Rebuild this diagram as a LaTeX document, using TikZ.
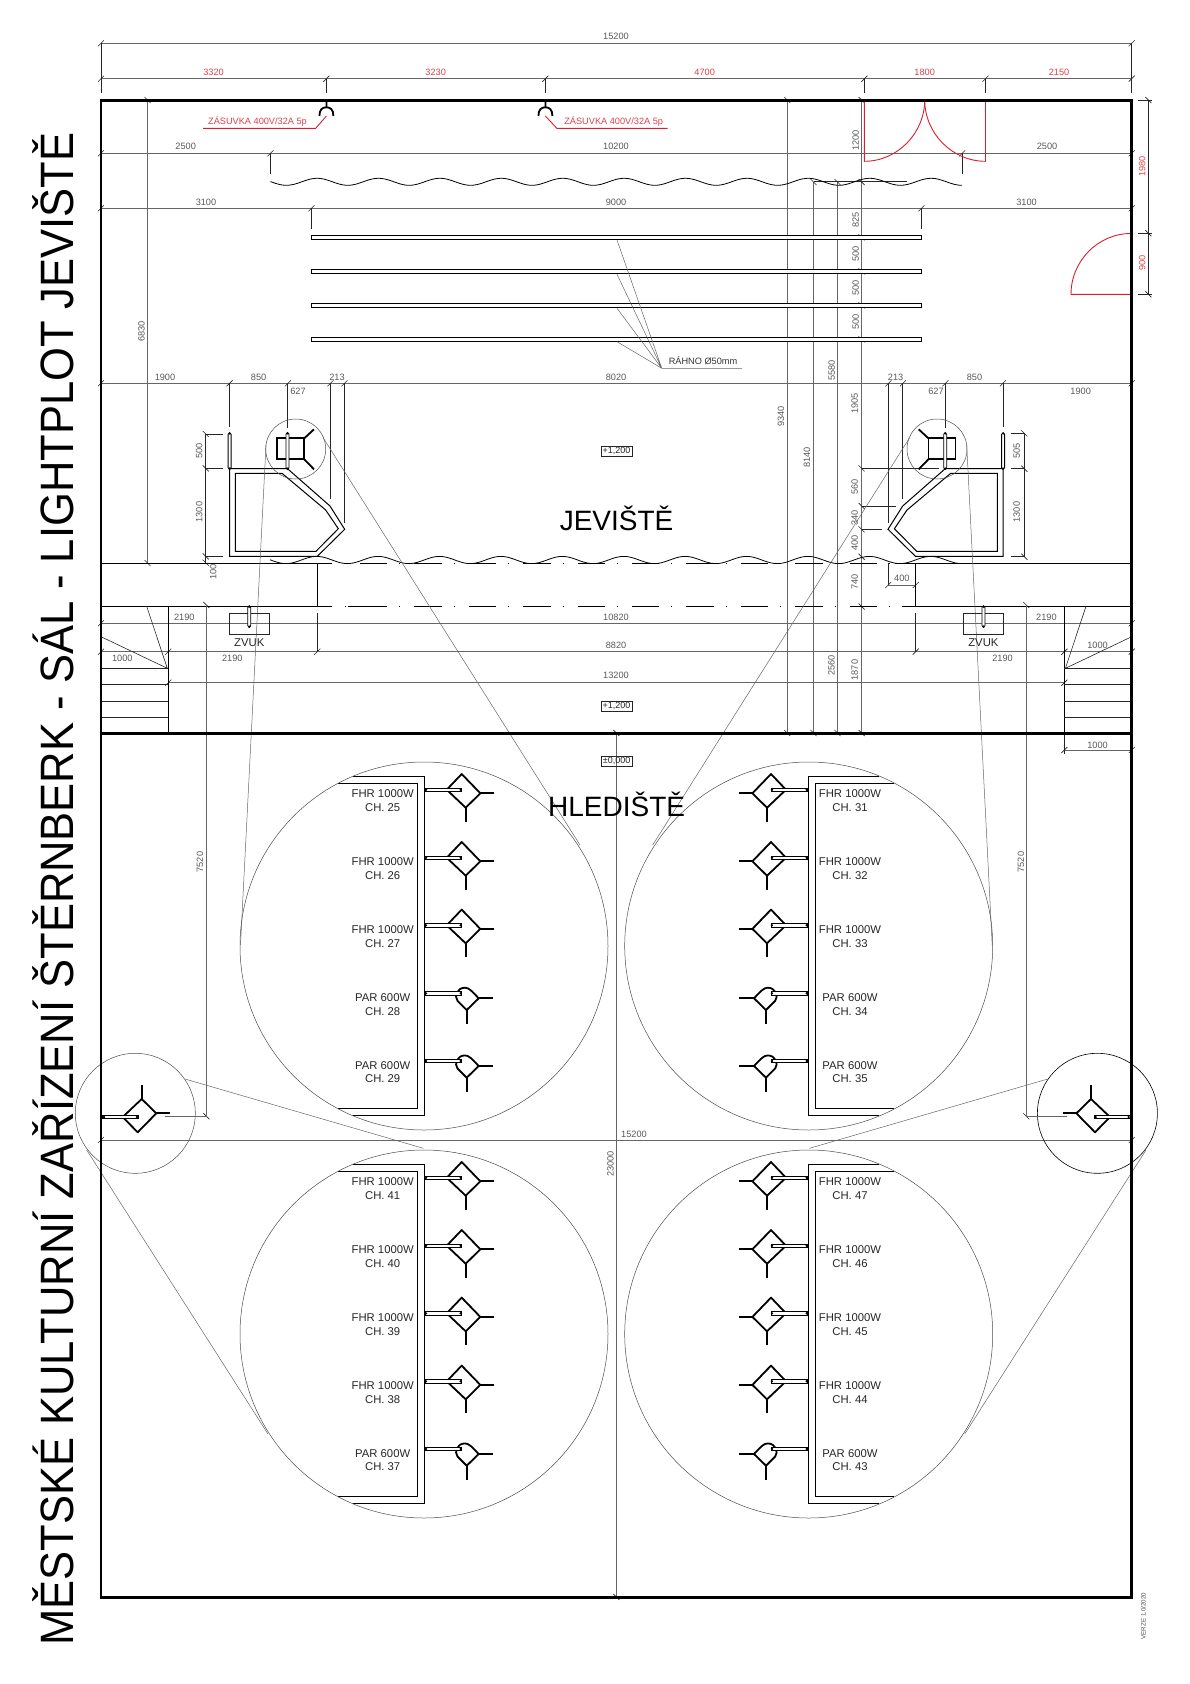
\documentclass[tikz,border=0pt]{standalone}
\usepackage{graphicx}
\usepackage{fontspec}
\setmainfont{Liberation Sans}

\definecolor{doorred}{RGB}{214,32,44}
\tikzset{
	dimline/.style={black!60,line width=0.5pt},
	extline/.style={black!85,line width=0.6pt},
	tickline/.style={black!85,line width=0.6pt},
	wallline/.style={black,line width=1pt},
	lampline/.style={black,line width=1.8pt},
	reddoor/.style={doorred,line width=0.9pt},
	bigcircle/.style={black!70,line width=0.5pt},
	dimtext/.style={black!65,inner sep=0pt,font=\fontsize{9.2}{9.2}\selectfont},
	dimvert/.style={dimtext,rotate=90},
	redtext/.style={doorred!85,inner sep=0pt,font=\fontsize{9.2}{9.2}\selectfont},
	lamptext/.style={black!85,inner sep=0pt,align=center,font=\fontsize{11.3}{13.7}\selectfont},
	leveltext/.style={draw=black!70,line width=0.5pt,black!85,inner sep=1.5pt,font=\fontsize{9}{9}\selectfont},
	roomtext/.style={black,inner sep=0pt,font=\fontsize{28}{28}\selectfont},
}

\newcommand{\vtube}[3]{
	\draw[black,fill=white,line width=0.8pt,rounded corners=1pt] (#1-1.5,#2) rectangle (#1+1.5,#3);
	\fill[black] (#1,#2) circle (1.4) (#1,#3) circle (1.4);
}
\newcommand{\htube}[2]{
	\draw[black,fill=white,line width=0.8pt] (#1,#2-1.6) rectangle (#1+36.7,#2+1.6);
}
\newcommand{\fhrrow}[2]{
	\begin{scope}[shift={(\rowx,#1)},xscale=\rowsign]
		\draw[lampline,line join=round] (21.7,0) -- (36.7,-15.7) -- (55.3,3.6) -- (40.7,18) -- cycle;
		\draw[lampline] (55.3,3.6) -- (69,3.6) (40.7,18) -- (40.7,32);
		\htube{0}{0}
		\fill[black] (1,0) circle (1.3) (35.7,0) circle (1.3);
	\end{scope}
	\node[lamptext] (ch#2) at (\rowtext,#1+11) {FHR 1000W\\CH. #2};
}
\newcommand{\parrow}[2]{
	\begin{scope}[shift={(\rowx,#1)},xscale=\rowsign]
		\draw[lampline,line join=round] (53.7,5) -- (41.7,16.7) -- (32.5,7.5) .. controls (29,3) and (32,-5.6) .. (40,-5.6) .. controls (44,-5.6) and (47,-2) .. (53.7,5);
		\draw[lampline] (53.7,5) -- (68.3,5) (41.7,16.7) -- (41.7,31);
		\htube{0}{0}
		\fill[black] (1,0) circle (1.3) (35.7,0) circle (1.3);
	\end{scope}
	\node[lamptext] (ch#2) at (\rowtext,#1+11) {PAR 600W\\CH. #2};
}
\newcommand{\panelbox}[1]{
	\begin{scope}[shift={(\rowx,#1)},xscale=\rowsign]
		\draw[wallline] (-71.7,-13.4) -- (-0.7,-13.4) -- (-0.7,325.6) -- (-71.7,325.6);
		\draw[wallline] (-86.7,-6.4) -- (-7.7,-6.4) -- (-7.7,318.6) -- (-86.7,318.6);
		\draw[bigcircle] (-1,156.3) circle (184);
	\end{scope}
}
\newcommand{\stagewing}{
	\draw[wallline] (229.6,468.7) -- (287.5,468.7) -- (330,506) -- (344.7,529.3) -- (317.3,556.3) -- (229.6,556.3) -- cycle;
	\draw[wallline] (235.3,473.3) -- (282,473.3) -- (325.7,510) -- (338.3,528.7) -- (316,551.3) -- (235.3,551.3) -- cycle;
	\draw[extline] (229.6,383.3) -- (229.6,426.7) (287.5,383.3) -- (287.5,428) (330.3,383.3) -- (330.3,499) (344.7,383.3) -- (344.7,522.7);
	\draw[bigcircle] (295.7,449) circle (30);
	\draw[lampline] (277.3,438.3) rectangle (304.3,459.3);
	\draw[lampline] (304.3,438.3) -- (314,429.3) (304.3,459.3) -- (314,469.3);
	\vtube{229.6}{433.3}{468.7}
	\vtube{287.5}{433.3}{468.7}
	\draw[dimline] (266,445) -- (240.5,945) (323.3,438) -- (580,845);
	\draw[wallline] (317.3,563.3) -- (317.3,606.3) (168.3,606.3) -- (168.3,733.5);
	\draw[extline] (317.3,613.3) -- (317.3,651.7);
	\draw[extline] (229.3,613.3) rectangle (269.7,634.7);
	\vtube{249.3}{606.5}{626.7}
	\foreach \stepy in {668.3,684.3,701.3,717.3}
		\draw[extline] (101,\stepy) -- (168.3,\stepy);
	\draw[extline] (146.7,606.3) -- (167.3,668.3) -- (101,636.7);
}
\newcommand{\sidelamp}{
	\draw[lampline,line join=round] (122.7,1117) -- (141.7,1099) -- (156.3,1113.3) -- (137.7,1132.3) -- cycle;
	\draw[lampline] (141.7,1099) -- (141.7,1085) (156.3,1113.3) -- (170,1113.3);
	\draw[black,fill=white,line width=0.8pt] (102.7,1115.4) rectangle (138.3,1118.6);
	\fill[black] (104,1117) circle (1.3) (137,1117) circle (1.3);
	\draw[dimline] (165.3,1116.3) -- (206.4,1116.3) -- (206.4,605);
	\draw[dimline] (185,1079) -- (423.3,1148.3) (86.7,1150) -- (268,1434);
}

\begin{document}
\begin{tikzpicture}[x=1pt,y=-1pt]
	\useasboundingbox (0,0) rectangle (1190,1684);

	\draw[dimline] (101,43.3) -- (1131.7,43.3) (101,78.7) -- (1131.7,78.7);
	\draw[dimline] (101,153.3) -- (1131.7,153.3) (101,208.3) -- (1131.7,208.3) (101,383.3) -- (1131.7,383.3);
	\draw[dimline] (101,623.3) -- (1131.7,623.3) (101,651.7) -- (1131.7,651.7) (168.3,682.7) -- (1064.4,682.7);
	\draw[dimline] (101,1140) -- (1131.7,1140) (616.4,733) -- (616.4,1597.7);
	\draw[dimline] (888.2,585) -- (915.7,585) (1064.4,750) -- (1131.7,750);
	\draw[dimline] (147.5,100) -- (147.5,563);
	\foreach \dimx/\dimtop in {787.3/100,813.5/182,837.5/182,861.6/100}
		\draw[dimline] (\dimx,\dimtop) -- (\dimx,733);
	\draw[extline] (101,43.3) -- (101,93.3) (1131.7,43.3) -- (1131.7,93.3);
	\foreach \dimx in {326.4,545.4,864.4,985.5}
		\draw[extline] (\dimx,78.7) -- (\dimx,93.3);
	\draw[extline] (270.4,153.3) -- (270.4,174) (962.2,153.3) -- (962.2,174);
	\draw[extline] (311.4,208.3) -- (311.4,229.3) (921.5,208.3) -- (921.5,229.3);
	\draw[extline] (813.5,181.7) -- (907,181.7);
	\draw[extline] (861.6,468.3) -- (939,468.3) (861.6,506) -- (895.7,506) (861.6,529.3) -- (882,529.3);
	\draw[extline] (888.2,563) -- (888.2,585) (1064.4,733.5) -- (1064.4,754);
	\draw[extline] (205.7,434) -- (205.7,562.7);
	\draw[extline] (205.7,434) -- (223.3,434) (205.7,468.3) -- (223.3,468.3) (205.7,556.3) -- (223.3,556.3);
	\draw[extline] (1024.3,433.3) -- (1024.3,556.7);
	\draw[extline] (1010.7,433.3) -- (1024.3,433.3) (1010.7,468.7) -- (1024.3,468.7) (1010.7,556.7) -- (1024.3,556.7);
	\draw[extline] (1148.4,100) -- (1148.4,294.3);
	\draw[extline] (1138,100) -- (1152,100) (1138,233.3) -- (1152,233.3) (1138,294.3) -- (1152,294.3);

	\foreach \tickx/\ticky in {101/43.3,1131.7/43.3,101/78.7,326.4/78.7,545.4/78.7,864.4/78.7,985.5/78.7,1131.7/78.7,
		101/153.3,270.4/153.3,962.2/153.3,1131.7/153.3,101/208.3,311.4/208.3,921.5/208.3,1131.7/208.3,
		101/383.3,229.6/383.3,287.9/383.3,330.4/383.3,344.5/383.3,888.4/383.3,902.9/383.3,945.5/383.3,1002.9/383.3,1131.7/383.3,
		101/623.3,1131.7/623.3,101/651.7,168.3/651.7,317.3/651.7,915.7/651.7,1064.4/651.7,1131.7/651.7,
		168.3/682.7,1064.4/682.7,888.2/585,915.7/585,1064.4/750,1131.7/750,101/1140,1131.7/1140}
		\draw[tickline] (\tickx,\ticky) ++(-3,3) -- ++(6,-6);
	\foreach \tickx/\ticky in {147.5/100,147.5/563,787.3/100,787.3/733,813.5/182,813.5/733,837.5/182,837.5/733,
		861.6/100,861.6/182,861.6/237.3,861.6/271.3,861.6/305.3,861.6/339.3,861.6/468.3,861.6/506,861.6/529.3,861.6/556.7,861.6/606.5,861.6/733,
		616.4/733,616.4/1597,205.7/434,205.7/468.3,205.7/556.3,205.7/562.7,206.4/605,206.4/1116.3,1026.3/605,1026.3/1116.3,
		1024.3/433.3,1024.3/468.7,1024.3/556.7,1148.4/100,1148.4/233.3,1148.4/294.3}
		\draw[tickline] (\tickx,\ticky) ++(-3,-3) -- ++(6,6);

	\draw[black,line width=0.8pt] plot[domain=270.4:962.2,samples=260] (\x,{181.8+3.5*cos((\x-286.4)*5.863)});
	\draw[black,line width=0.8pt] plot[domain=270:962.5,samples=260] (\x,{560-3.6*cos((\x-316.7)*5.863)});
	\foreach \bary in {237.3,271.3,305.3,339.3}
		\draw[black,fill=white,line width=0.9pt] (311.4,\bary-2) rectangle (921.5,\bary+2);
	\draw[dimline] (617,240) -- (661.8,368.3) (617,274.3) -- (661.8,368.3) (617,308.3) -- (661.8,368.3) (617,341.7) -- (661.8,368.3) -- (741.8,368.3);

	\draw[wallline,line width=0.8pt] (101,563.3) -- (332,563.3) (895,563.3) -- (1131.7,563.3);
	\draw[wallline,line width=0.8pt] (101,606.3) -- (332,606.3) (902,606.3) -- (1131.7,606.3);
	\draw[wallline,line width=0.8pt,dash pattern=on 1pt off 14pt on 27.4pt off 12pt] (345,563.3) -- (890,563.3) (345,606.3) -- (890,606.3);
	\draw[wallline,line width=0.8pt] (348,606.3) -- (360,606.3);

	\foreach \sockx in {326.4,545.4}
		\draw[lampline] (\sockx,100) -- (\sockx,107.3) (\sockx-7,116) .. controls (\sockx-7,109.5) and (\sockx-4,107.3) .. (\sockx,107.3) .. controls (\sockx+4,107.3) and (\sockx+7,109.5) .. (\sockx+7,116);
	\draw[reddoor] (203,128.3) -- (315.7,128.3) -- (326.4,116);
	\draw[reddoor] (667.6,128.3) -- (556.8,128.3) -- (545.4,116);
	\draw[reddoor] (924.7,100) .. controls (924.7,133) and (897.5,161.3) .. (864.4,161.3) -- (864.4,100);
	\draw[reddoor] (924.7,100) .. controls (924.7,133) and (951.9,161.3) .. (985.5,161.3) -- (985.5,100);
	\draw[reddoor] (1131,233.5) .. controls (1098,233.5) and (1071,261) .. (1071,294.3) -- (1131,294.3);

	\stagewing
	\begin{scope}[shift={(1232.7,0)},xscale=-1]
		\stagewing
	\end{scope}

	\draw[bigcircle] (135.3,1113.3) circle (60);
	\draw[black,line width=0.6pt] (1097.4,1113.3) circle (60);
	\sidelamp
	\begin{scope}[shift={(1232.7,0)},xscale=-1]
		\sidelamp
	\end{scope}

	\def\rowx{425}\def\rowsign{1}\def\rowtext{382.7}
	\panelbox{789.7}
	\fhrrow{789.7}{25}
	\fhrrow{857.7}{26}
	\fhrrow{925.3}{27}
	\parrow{993.3}{28}
	\parrow{1061}{29}
	\panelbox{1177.7}
	\fhrrow{1177.7}{41}
	\fhrrow{1245.7}{40}
	\fhrrow{1313.3}{39}
	\fhrrow{1381.3}{38}
	\parrow{1449}{37}
	\def\rowx{807.7}\def\rowsign{-1}\def\rowtext{850}
	\panelbox{789.7}
	\fhrrow{789.7}{31}
	\fhrrow{857.7}{32}
	\fhrrow{925.3}{33}
	\parrow{993.3}{34}
	\parrow{1061}{35}
	\panelbox{1177.7}
	\fhrrow{1177.7}{47}
	\fhrrow{1245.7}{46}
	\fhrrow{1313.3}{45}
	\fhrrow{1381.3}{44}
	\parrow{1449}{43}

	\draw[black,line width=2.8pt] (101,100.3) rectangle (1131.7,1597.7);
	\draw[black,line width=2.8pt] (101,733.5) -- (1131.7,733.5);

	\foreach \posx/\posy/\val [count=\i] in {616/36.7/15200,616/146/10200,185.7/146/2500,1047/146/2500,206/202/3100,616/202/9000,1026.5/202/3100,
		165/377/1900,258.6/377/850,298/391/627,337/377/213,616/377/8020,895.6/377/213,936/391/627,974.5/377/850,1080.7/391/1900,
		184.3/617/2190,616/617/10820,1046.4/617/2190,616/645/8820,232.3/658.3/2190,122.3/658.3/1000,1002.5/658.3/2190,1097.5/645/1000,
		616/675/13200,1097.5/745/1000,901.8/578.3/400,634/1134/15200}
		\node[dimtext] (dimh\i) at (\posx,\posy) {\val};
	\foreach \posx/\posy/\val [count=\i] in {141.4/331.7/6830,199.3/451/500,199.3/512/1300,213.3/571.7/100,200/862/7520,1021/862/7520,
		855.6/140.7/1200,855.6/220/825,855.6/254.3/500,855.6/288.3/500,855.6/322.3/500,831.6/370.7/5580,854.6/403.3/1905,781/416.7/9340,807/457.7/8140,
		854.6/487.3/560,854.6/518.3/340,854.6/543.3/400,854.6/581.7/740,831.4/665.7/2560,854.6/670/1870,1016.8/451/505,1016.8/512/1300,610.4/1164/23000}
		\node[dimvert] (dimv\i) at (\posx,\posy) {\val};
	\foreach \posx/\posy/\val [count=\i] in {213.6/72/3320,435.7/72/3230,704.7/72/4700,924.7/72/1800,1059/72/2150}
		\node[redtext] (doorh\i) at (\posx,\posy) {\val};
	\node[redtext,rotate=90] (doorv1) at (1142.2,166.7) {1980};
	\node[redtext,rotate=90] (doorv2) at (1142.2,263.3) {900};
	\node[redtext] (sock1) at (257.5,121.3) {ZÁSUVKA 400V/32A 5p};
	\node[redtext] (sock2) at (613.7,121.3) {ZÁSUVKA 400V/32A 5p};
	\node[dimtext,black!80] (rahno) at (703,361) {RÁHNO Ø50mm};
	\node[leveltext] (level1) at (616.6,451) {+1,200};
	\node[leveltext] (level2) at (616.6,706) {+1,200};
	\node[leveltext] (level3) at (616.6,761) {±0,000};
	\node[roomtext] (jeviste) at (616.6,518) {JEVIŠTĚ};
	\node[roomtext] (hlediste) at (616.6,804) {HLEDIŠTĚ};
	\node[lamptext] (zvuk1) at (249.3,642.7) {ZVUK};
	\node[lamptext] (zvuk2) at (983.4,642.7) {ZVUK};
	\node[black,inner sep=0pt,rotate=90,font=\fontsize{46.8}{46.8}\selectfont] (title) at (53,889) {\scalebox{0.93}[1]{MĚSTSKÉ KULTURNÍ ZAŘÍZENÍ ŠTĚRNBERK - SÁL - LIGHTPLOT JEVIŠTĚ}};
	\node[black!70,inner sep=0pt,rotate=90,font=\fontsize{6.2}{6.2}\selectfont] (verze) at (1143.3,1616) {VERZE 1.0/2020};
\end{tikzpicture}
\end{document}
